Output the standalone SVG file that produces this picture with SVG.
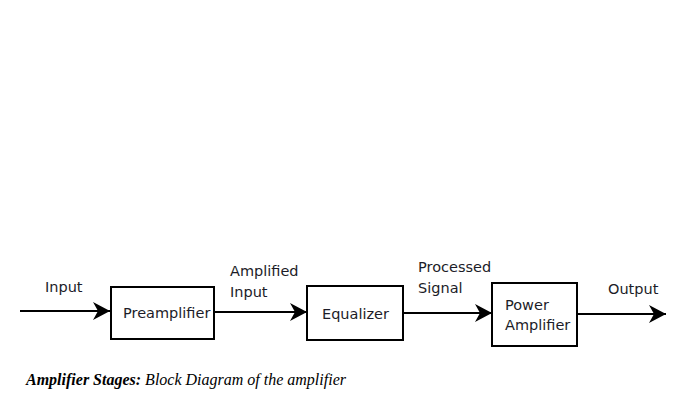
<svg xmlns="http://www.w3.org/2000/svg" width="693" height="407" viewBox="0 0 693 407">
<style>
.box{fill:#fff;stroke:#000;stroke-width:2}
.lbl{font-family:"DejaVu Sans",Verdana,sans-serif;font-size:14.5px;fill:#1c1c28}
.edge{stroke:#000;stroke-width:2.2;fill:none}
.cap{font-family:"Liberation Serif","Times New Roman",serif;font-size:16px;font-style:italic;fill:#000}
</style>
<defs>
<marker id="ah" markerUnits="userSpaceOnUse" markerWidth="20" markerHeight="20" refX="17" refY="9" orient="auto">
<path d="M0,0 L17,9 L0,18 L5,9 z" fill="#000"/>
</marker>
</defs>
<rect width="693" height="407" fill="#fff"/>
<g id="connectors">
<line class="edge" x1="20" y1="311" x2="110" y2="311" marker-end="url(#ah)"/>
<line class="edge" x1="214" y1="312" x2="307" y2="312" marker-end="url(#ah)"/>
<line class="edge" x1="403" y1="313" x2="492" y2="313" marker-end="url(#ah)"/>
<line class="edge" x1="577" y1="314" x2="666" y2="314" marker-end="url(#ah)"/>
</g>
<g id="labels">
<text class="lbl" x="45" y="292">Input</text>
<text class="lbl" x="230" y="276">Amplified</text>
<text class="lbl" x="230" y="297">Input</text>
<text class="lbl" x="418" y="272">Processed</text>
<text class="lbl" x="418" y="293">Signal</text>
<text class="lbl" x="608" y="294">Output</text>
</g>
<g id="preamplifier">
<rect class="box" x="111" y="287" width="103" height="52"/>
<text class="lbl" x="123" y="318">Preamplifier</text>
</g>
<g id="equalizer">
<rect class="box" x="307" y="286" width="96" height="54"/>
<text class="lbl" x="322" y="319">Equalizer</text>
</g>
<g id="power-amplifier">
<rect class="box" x="492" y="283" width="85" height="63"/>
<text class="lbl" x="505" y="310">Power</text>
<text class="lbl" x="505" y="330">Amplifier</text>
</g>
<g id="caption">
<text class="cap" x="26" y="385"><tspan font-weight="bold">Amplifier Stages:</tspan> Block Diagram of the amplifier</text>
</g>
</svg>
